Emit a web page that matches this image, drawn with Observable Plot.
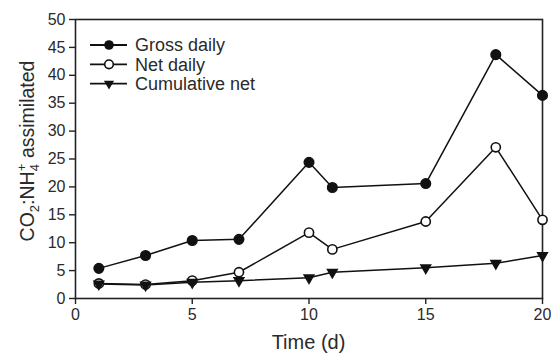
<!DOCTYPE html>
<html>
<head>
<meta charset="utf-8">
<script src="https://cdn.jsdelivr.net/npm/d3@7"></script>
<script src="https://cdn.jsdelivr.net/npm/@observablehq/plot@0.6"></script>
<style>
  html, body { margin: 0; padding: 0; background: #fff; }
  #chart svg { font-family: "Liberation Sans", Arial, sans-serif; }
</style>
</head>
<body>
<div id="chart"></div>
<script>
// Sampling days
const days = [1, 3, 5, 7, 10, 11, 15, 18, 20];
// CO2:NH4+ assimilated ratios
const grossDaily = [5.4, 7.7, 10.4, 10.6, 24.4, 19.9, 20.6, 43.7, 36.4];
const netDaily = [2.7, 2.5, 3.2, 4.7, 11.8, 8.8, 13.8, 27.1, 14.1];
const cumulativeNet = [2.6, 2.4, 2.9, 3.2, 3.7, 4.7, 5.5, 6.3, 7.7];
const seriesNames = ["Gross daily", "Net daily", "Cumulative net"];
const xTicks = [0, 5, 10, 15, 20];
const yTicks = [0, 5, 10, 15, 20, 25, 30, 35, 40, 45, 50];

const seriesValues = [grossDaily, netDaily, cumulativeNet];
const rows = seriesNames.flatMap((name, s) =>
  days.map((d, i) => ({series: name, day: d, value: seriesValues[s][i]}))
);

const ink = "#111";
const textInk = "#2a2a2a";
const W = 551, H = 353;
const M = {left: 75, right: 9, top: 19, bottom: 55};

const plot = Plot.plot({
  width: W,
  height: H,
  marginLeft: M.left,
  marginRight: M.right,
  marginTop: M.top,
  marginBottom: M.bottom,
  style: {fontSize: "16px", color: textInk, background: "#fff"},
  x: {domain: [0, 20], label: null},
  y: {domain: [0, 50], label: null},
  marks: [
    Plot.frame({stroke: "#222", strokeWidth: 1.6}),
    Plot.axisX({ticks: xTicks, tickSize: 6, tickPadding: 4, stroke: "#222", strokeWidth: 1.4, fontSize: 16, fill: textInk, label: null}),
    Plot.axisY({ticks: yTicks, tickSize: 6, tickPadding: 4, stroke: "#222", strokeWidth: 1.4, fontSize: 16, fill: textInk, label: null}),
    Plot.line(rows, {x: "day", y: "value", z: "series", stroke: ink, strokeWidth: 1.5}),
    Plot.dot(rows.filter(d => d.series === "Gross daily"), {x: "day", y: "value", r: 4.8, fill: ink, stroke: ink}),
    Plot.dot(rows.filter(d => d.series === "Net daily"), {x: "day", y: "value", r: 4.6, fill: "#fff", stroke: ink, strokeWidth: 1.6}),
    Plot.dot(rows.filter(d => d.series === "Cumulative net"), {x: "day", y: "value", symbol: "triangle", r: 3.6, rotate: 180, fill: ink, stroke: ink})
  ]
});

const svg = d3.select(plot);

// Legend in the upper-left of the plotting area
const legend = svg.append("g").attr("transform", "translate(90,45)");
const legendRowGap = 19.3;
seriesNames.forEach((name, i) => {
  const g = legend.append("g").attr("transform", `translate(0,${i * legendRowGap})`);
  g.append("line").attr("x1", 0).attr("x2", 37).attr("y1", 0).attr("y2", 0)
    .attr("stroke", ink).attr("stroke-width", 1.8);
  if (i === 0) {
    g.append("circle").attr("cx", 19).attr("cy", 0).attr("r", 4.8).attr("fill", ink);
  } else if (i === 1) {
    g.append("circle").attr("cx", 19).attr("cy", 0).attr("r", 4.3)
      .attr("fill", "#fff").attr("stroke", ink).attr("stroke-width", 1.6);
  } else {
    g.append("path").attr("transform", "translate(19,0) rotate(180)")
      .attr("d", d3.symbol(d3.symbolTriangle, 45)()).attr("fill", ink);
  }
  g.append("text").attr("x", 45).attr("y", 0).attr("dy", "0.35em")
    .attr("text-anchor", "start")
    .attr("font-size", 18).attr("fill", textInk).text(name);
});

// X axis title
svg.append("text")
  .attr("x", (M.left + W - M.right) / 2).attr("y", 349)
  .attr("text-anchor", "middle").attr("font-size", 20).attr("fill", textInk)
  .text("Time (d)");

// Y axis title with chemical sub/superscripts
const yt = svg.append("text")
  .attr("transform", "translate(34,151) rotate(-90)")
  .attr("text-anchor", "middle").attr("font-size", 19.5).attr("fill", textInk);
yt.append("tspan").text("CO");
yt.append("tspan").attr("font-size", 13).attr("dy", 5).text("2");
yt.append("tspan").attr("dy", -5).text(":NH");
yt.append("tspan").attr("font-size", 13).attr("dy", 5).text("4");
yt.append("tspan").attr("font-size", 13).attr("dx", -7).attr("dy", -13).text("+");
yt.append("tspan").attr("dy", 8).text(" assimilated");

document.getElementById("chart").appendChild(plot);
</script>
</body>
</html>
